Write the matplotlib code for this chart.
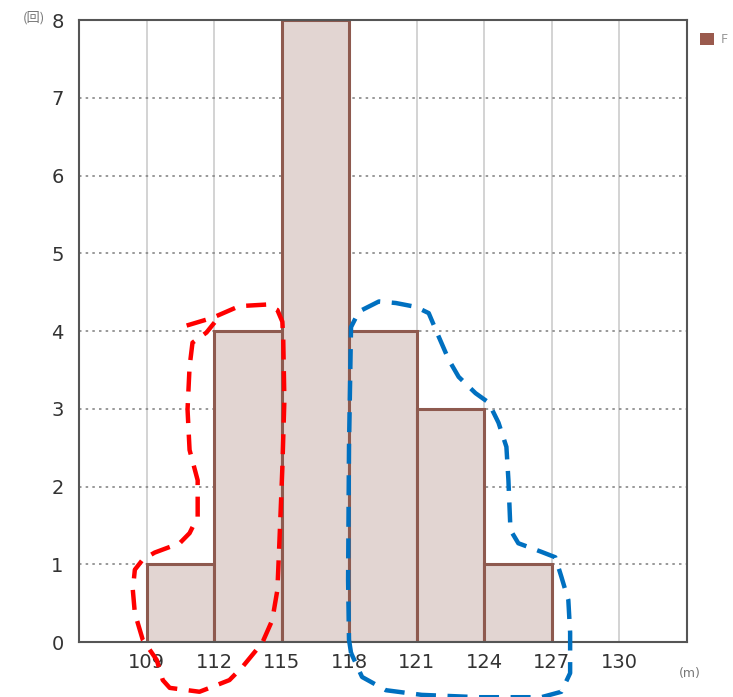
import numpy as np
import matplotlib.pyplot as plt
from matplotlib.patches import Patch

plt.rcParams['font.family'] = ['DejaVu Sans', 'Noto Sans CJK JP']

# histogram bins and counts
bin_edges = [109, 112, 115, 118, 121, 124, 127]
counts = [1, 4, 8, 4, 3, 1]
x_ticks = [109, 112, 115, 118, 121, 124, 127, 130]
y_ticks = [0, 1, 2, 3, 4, 5, 6, 7, 8]

# hand-drawn dashed outlines (data coords)
red_x = [110.78, 111.93, 113.12, 114.32, 114.81, 115.03, 115.07, 115.12, 115.03, 114.98,
         114.89, 114.81, 114.58, 114.14, 113.26, 112.68, 111.80, 111.35, 110.03, 109.72,
         109.45, 108.83, 108.48, 108.39, 108.48, 108.83, 109.36, 110.47, 110.91, 111.27,
         111.27, 110.91, 110.82, 110.91, 111.04, 111.66, 112.02]
red_y = [4.07, 4.17, 4.32, 4.34, 4.27, 4.12, 3.89, 3.11, 2.24, 1.87,
         1.22, 0.67, 0.28, -0.01, -0.32, -0.49, -0.59, -0.64, -0.59, -0.49,
         -0.23, 0.03, 0.37, 0.67, 0.93, 1.06, 1.15, 1.27, 1.40, 1.61,
         2.08, 2.47, 2.99, 3.54, 3.85, 3.98, 4.11]
blue_x = [118.08, 117.99, 117.95, 117.99, 118.08, 118.43, 119.32, 120.07, 120.96, 121.53,
          121.97, 122.42, 122.86, 123.61, 124.19, 124.63, 124.98, 125.07, 125.16, 125.51,
          126.53, 127.15, 127.42, 127.73, 127.81, 127.81, 127.42, 126.53, 123.74, 121.22,
          119.63, 118.57, 118.08]
blue_y = [-0.14, 0.03, 0.80, 2.51, 4.05, 4.25, 4.38, 4.36, 4.31, 4.23,
          3.93, 3.63, 3.41, 3.20, 3.08, 2.82, 2.51, 2.08, 1.44, 1.27,
          1.16, 1.09, 0.84, 0.54, 0.12, -0.40, -0.64, -0.71, -0.71, -0.68,
          -0.62, -0.45, -0.14]

fig = plt.figure(figsize=(7.33, 6.97), dpi=100)
ax = fig.add_axes([79 / 733, 1 - 642 / 697, (687 - 79) / 733, (642 - 20) / 697])

widths = np.diff(bin_edges)
ax.bar(bin_edges[:-1], counts, width=widths, align='edge', color='#e2d5d2',
       edgecolor='#8e5a4f', linewidth=2.2, zorder=3)

ax.set_xlim(106, 133)
ax.set_ylim(0, 8)
ax.set_xticks(x_ticks)
ax.set_yticks(y_ticks)
ax.tick_params(length=0, labelsize=14, colors='#333333', pad=8)
ax.tick_params(axis='y', pad=11)

for x in x_ticks:
    ax.axvline(x, color='#d0d0d0', linewidth=1.3, zorder=1)
for y in y_ticks[1:-1]:
    ax.axhline(y, color='#888888', linewidth=1.2, linestyle=(0, (1.5, 2.5)), zorder=1)

for s in ax.spines.values():
    s.set_color('#555555')
    s.set_linewidth(1.5)
    s.set_zorder(4)

ax.plot(red_x, red_y, color='#ff0000', linewidth=3.2, linestyle=(0, (4.5, 2.6)),
        clip_on=False, zorder=5)
ax.plot(blue_x, blue_y, color='#0070c0', linewidth=3.2, linestyle=(0, (4.5, 2.6)),
        clip_on=False, zorder=5)

leg = fig.legend(handles=[Patch(facecolor='#9a5a4d', edgecolor='none', label='F')],
                 loc='upper left', bbox_to_anchor=(700 / 733, 1 - 33 / 697), frameon=False,
                 fontsize=9, handlelength=1.1, handleheight=1.1, handletextpad=0.6,
                 borderaxespad=0, borderpad=0)
for t in leg.get_texts():
    t.set_color('#999999')

fig.text(23 / 733, 1 - 18 / 697, '(回)', fontsize=9.5, color='#777777', ha='left', va='center',
         family=['Noto Sans CJK JP', 'DejaVu Sans'])
fig.text(690 / 733, 1 - 673 / 697, '(m)', fontsize=9, color='#777777', ha='center', va='center')

fig.savefig('out.png', dpi=100)
